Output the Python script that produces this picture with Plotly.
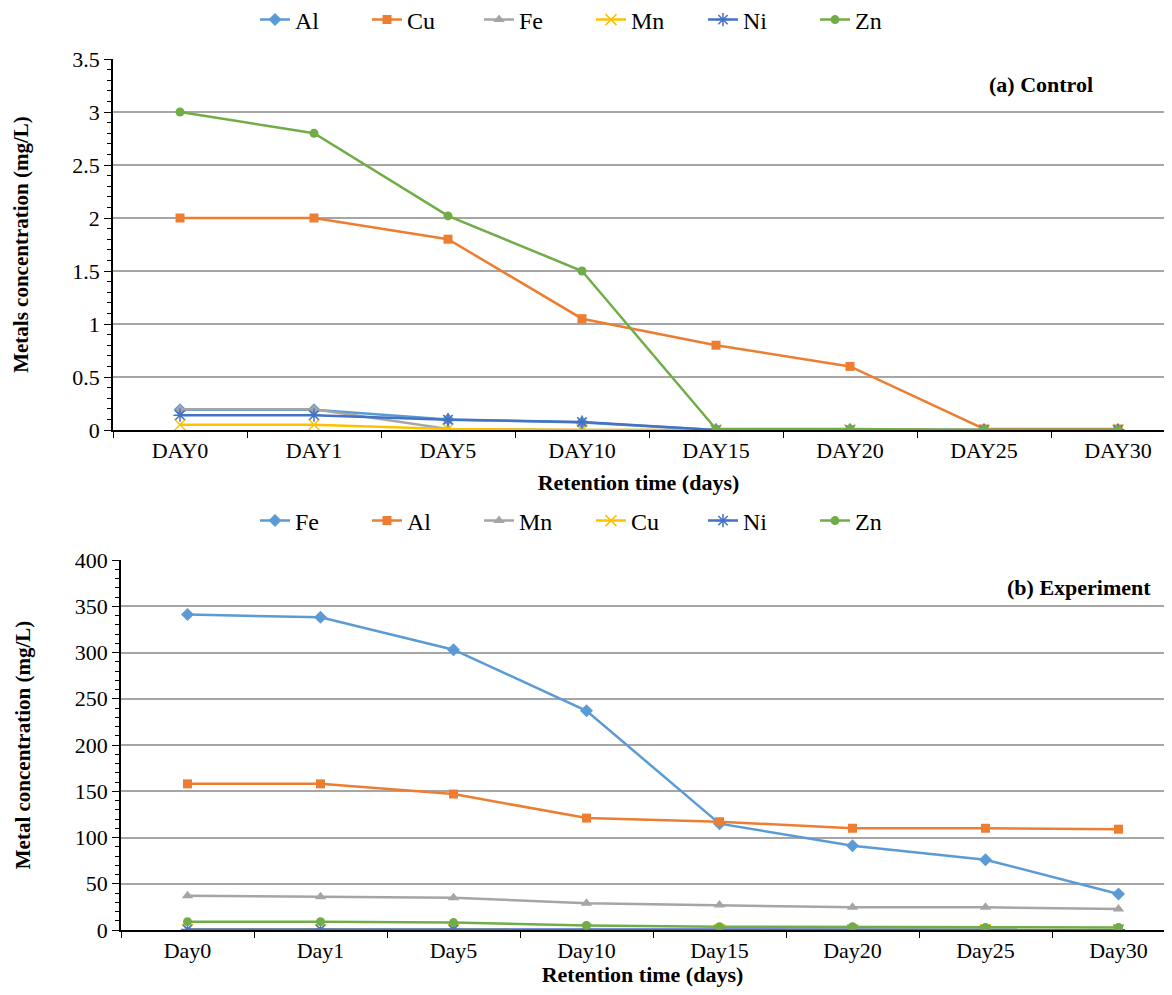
import plotly.graph_objects as go

# ---- data ----
days_a = ["DAY0", "DAY1", "DAY5", "DAY10", "DAY15", "DAY20", "DAY25", "DAY30"]
days_b = ["Day0", "Day1", "Day5", "Day10", "Day15", "Day20", "Day25", "Day30"]

# (a) Control
ctrl_Al = [0.19, 0.19, 0.10, 0.07, 0.0, 0.0, 0.0, 0.0]
ctrl_Cu = [2.0, 2.0, 1.8, 1.05, 0.8, 0.6, 0.01, 0.01]
ctrl_Fe = [0.195, 0.195, 0.01, 0.0, 0.0, 0.0, 0.0, 0.0]
ctrl_Mn = [0.05, 0.05, 0.01, 0.0, 0.0, 0.0, 0.0, 0.0]
ctrl_Ni = [0.14, 0.14, 0.097, 0.075, 0.0, 0.0, 0.0, 0.0]
ctrl_Zn = [3.0, 2.8, 2.02, 1.5, 0.01, 0.01, 0.0, 0.0]

# (b) Experiment
exp_Fe = [341, 338, 303, 237, 115, 91, 76, 39]
exp_Al = [158, 158, 147, 121, 117, 110, 110, 109]
exp_Mn = [37, 36, 35, 29, 27, 24.5, 24.5, 22.7]
exp_Cu = [0.5, 0.5, 0.5, 0.4, 0.3, 0.3, 0.2, 0.2]
exp_Ni = [0.6, 0.6, 0.5, 0.5, 0.4, 0.4, 0.3, 0.3]
exp_Zn = [9, 9, 8, 5, 3.6, 3.6, 2.8, 2.8]

# ---- styles ----
C_BLUE = "#5B9BD5"
C_ORANGE = "#ED7D31"
C_GRAY = "#A5A5A5"
C_YELLOW = "#FFC000"
C_DBLUE = "#4472C4"
C_GREEN = "#70AD47"
FONT = "'Liberation Serif', 'Times New Roman', Times, serif"

styles = [
    (C_BLUE, "diamond", 10),
    (C_ORANGE, "square", 9),
    (C_GRAY, "triangle-up", 10),
    (C_YELLOW, "x-thin-open", 11),
    (C_DBLUE, "asterisk-open", 11),
    (C_GREEN, "circle", 9),
]

fig = go.Figure()

def add_series(x, y, name, style, xa, ya, legend):
    color, sym, size = style
    marker = dict(symbol=sym, size=size, color=color)
    if sym.endswith("-open"):
        marker["line"] = dict(color=color, width=1.5)
    fig.add_trace(go.Scatter(
        x=x, y=y, name=name, mode="lines+markers",
        line=dict(color=color, width=2.5), marker=marker,
        xaxis=xa, yaxis=ya, legend=legend,
    ))

names_a = ["Al", "Cu", "Fe", "Mn", "Ni", "Zn"]
vals_a = [ctrl_Al, ctrl_Cu, ctrl_Fe, ctrl_Mn, ctrl_Ni, ctrl_Zn]
for n, v, s in zip(names_a, vals_a, styles):
    add_series(days_a, v, n, s, "x", "y", "legend")

names_b = ["Fe", "Al", "Mn", "Cu", "Ni", "Zn"]
vals_b = [exp_Fe, exp_Al, exp_Mn, exp_Cu, exp_Ni, exp_Zn]
for n, v, s in zip(names_b, vals_b, styles):
    add_series(days_b, v, n, s, "x2", "y2", "legend2")

# figure fits inside the page body (8px margins) so nothing overflows
OFF = 8
W = 1172.0 - 2 * OFF
H = 995.0 - 2 * OFF

def px_x(x):
    return (x - OFF) / W

def px_y(y):
    return 1 - (y - OFF) / H

def cat_range(x0, width):
    span = (W + OFF - x0) / width
    return [-0.5, -0.5 + span]

xcommon = dict(
    type="category", showline=True, linecolor="black", linewidth=1.5,
    ticks="outside", ticklen=6, tickcolor="black", tickson="boundaries",
    showgrid=False, zeroline=False, automargin=False,
    tickfont=dict(family=FONT, size=22, color="black"),
    title_font=dict(family=FONT, size=22, color="black"),
)
ycommon = dict(
    showline=True, linecolor="black", linewidth=1.5,
    ticks="outside", ticklen=7, tickcolor="black",
    showgrid=True, gridcolor="#A6A6A6", gridwidth=1.5,
    zeroline=False, automargin=False,
    tickfont=dict(family=FONT, size=22, color="black"),
    title_font=dict(family=FONT, size=21, color="black"),
)

LEG = dict(orientation="h", xanchor="left", yanchor="middle",
           font=dict(family=FONT, size=24, color="black"), bgcolor="rgba(0,0,0,0)",
           entrywidth=67, entrywidthmode="pixels", itemwidth=30)

fig.update_layout(
    width=int(W), height=int(H),
    margin=dict(l=0, r=0, t=0, b=0, autoexpand=False),
    paper_bgcolor="white", plot_bgcolor="white",
    showlegend=True,
    xaxis=dict(**xcommon, domain=[px_x(113), 1.0], anchor="y",
               range=cat_range(113, 134),
               title=dict(text="<b>Retention time (days)</b>", standoff=12)),
    yaxis=dict(**ycommon, domain=[px_y(430), px_y(59)], anchor="x",
               range=[0, 3.5], dtick=0.5, tickformat="~g",
               minor=dict(ticks="outside", ticklen=4, dtick=0.1, tickcolor="black", showgrid=False),
               title=dict(text="<b>Metals concentration (mg/L)</b>", standoff=38)),
    xaxis2=dict(**xcommon, domain=[px_x(121), 1.0], anchor="y2",
                range=cat_range(121, 133),
                title=dict(text="<b>Retention time (days)</b>", standoff=12)),
    yaxis2=dict(**ycommon, domain=[px_y(930), px_y(560)], anchor="x2",
                range=[0, 400], dtick=50,
                minor=dict(ticks="outside", ticklen=4, dtick=10, tickcolor="black", showgrid=False),
                title=dict(text="<b>Metal concentration (mg/L)</b>", standoff=38)),
    legend=dict(**LEG, x=px_x(255), y=px_y(20)),
    legend2=dict(**LEG, x=px_x(255), y=px_y(521)),
    annotations=[
        dict(text="<b>(a) Control</b>", xref="paper", yref="paper",
             x=px_x(1095), y=px_y(84), xanchor="right", yanchor="middle",
             showarrow=False, font=dict(family=FONT, size=22, color="black")),
        dict(text="<b>(b) Experiment</b>", xref="paper", yref="paper",
             x=px_x(1153), y=px_y(587), xanchor="right", yanchor="middle",
             showarrow=False, font=dict(family=FONT, size=22, color="black")),
    ],
)

fig.write_html("out.html")
